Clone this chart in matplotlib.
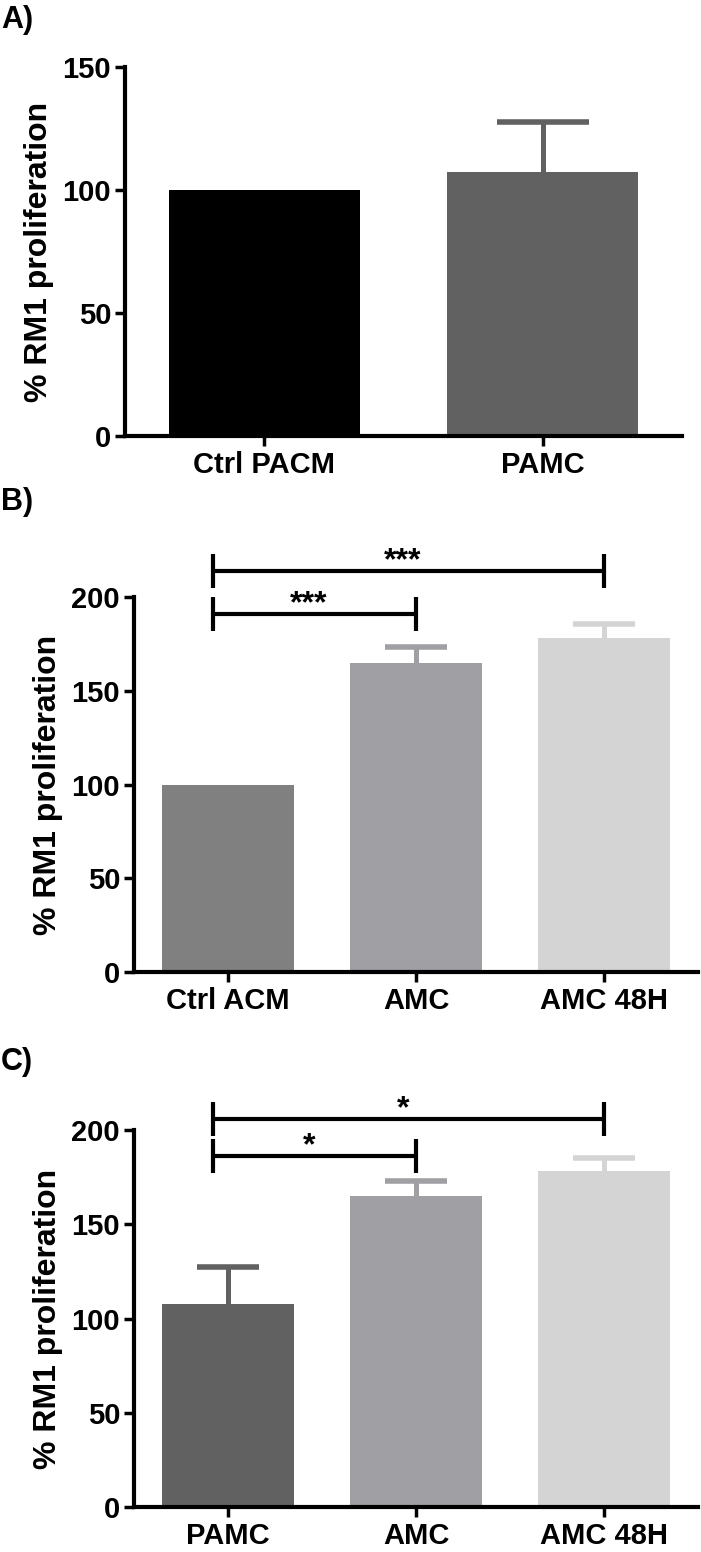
import numpy as np
import matplotlib
matplotlib.use('Agg')
import matplotlib.pyplot as plt

plt.rcParams['font.family'] = ['Liberation Sans', 'DejaVu Sans']
plt.rcParams['font.weight'] = 'bold'

# panel A
a_labels = ['Ctrl PACM', 'PAMC']
a_vals = [100, 107.5]
a_err = [0, 20]
a_colors = ['#000000', '#616161']

# panel B
b_labels = ['Ctrl ACM', 'AMC', 'AMC 48H']
b_vals = [100, 165, 178]
b_err = [0, 8.5, 7.5]
b_colors = ['#808080', '#a0a0a4', '#d4d4d4']
b_sig = [(0, 1, 191, '***'), (0, 2, 214, '***')]

# panel C
c_labels = ['PAMC', 'AMC', 'AMC 48H']
c_vals = [107.5, 165, 178]
c_err = [20, 8, 7]
c_colors = ['#616161', '#a0a0a4', '#d4d4d4']
c_sig = [(0, 1, 186, '*'), (0, 2, 206, '*')]

W, H = 701, 1552
fig = plt.figure(figsize=(W / 100, H / 100), dpi=100)


def px_axes(x0, y_top, x1, y_bot):
    return fig.add_axes([x0 / W, 1 - y_bot / H, (x1 - x0) / W, (y_bot - y_top) / H])


def panel(ax, labels, vals, err, colors, ymax, step, bw, capsize, sig=()):
    x = np.arange(len(labels))
    ax.bar(x, vals, width=bw, color=colors, zorder=1)
    # upper error bars only
    for xi, v, e, c in zip(x, vals, err, colors):
        if e > 0:
            ax.vlines(xi, v, v + e, color=c, lw=3.6, zorder=2)
            ax.plot([xi], [v + e], marker='_', markersize=2 * capsize,
                    mew=4, color=c, zorder=2)
    for i, j, y, s in sig:
        xl = i - 0.08
        ax.plot([xl, j], [y, y], color='black', lw=3, clip_on=False, solid_capstyle='butt')
        for xx in (xl, j):
            ax.plot([xx, xx], [y - 9, y + 9], color='black', lw=3, clip_on=False,
                    solid_capstyle='butt')
        ax.text((xl + j) / 2 - 0.03, y + 1, s, ha='center', va='baseline',
                fontsize=23, fontweight='bold', clip_on=False)
    ax.set_xlim(-0.5, len(labels) - 0.5)
    ax.set_ylim(0, ymax)
    ax.set_yticks(np.arange(0, ymax + 1, step))
    ax.set_xticks(x)
    ax.set_xticklabels(labels)
    for sp in ['top', 'right']:
        ax.spines[sp].set_visible(False)
    for sp in ['left', 'bottom']:
        ax.spines[sp].set_linewidth(3)
    ax.tick_params(axis='y', direction='out', length=7, width=2.5, labelsize=21, pad=3)
    ax.tick_params(axis='x', direction='out', length=7, width=2.5, labelsize=21, pad=4)
    ax.set_ylabel('% RM1 proliferation', fontsize=23, fontweight='bold', labelpad=6)


axA = px_axes(125, 67, 682, 436)
panel(axA, a_labels, a_vals, a_err, a_colors, 150, 50, 0.685, 33)

axB = px_axes(134, 597, 698, 972)
panel(axB, b_labels, b_vals, b_err, b_colors, 200, 50, 0.70, 22.5, b_sig)

axC = px_axes(134, 1130, 698, 1507)
panel(axC, c_labels, c_vals, c_err, c_colors, 200, 50, 0.70, 22.5, c_sig)

fig.text(1 / W, 1 - 20 / H, 'A)', fontsize=22, fontweight='bold', va='center', ha='left')
fig.text(1 / W, 1 - 502 / H, 'B)', fontsize=22, fontweight='bold', va='center', ha='left')
fig.text(1 / W, 1 - 1062 / H, 'C)', fontsize=22, fontweight='bold', va='center', ha='left')

fig.savefig('out.png', dpi=100)
